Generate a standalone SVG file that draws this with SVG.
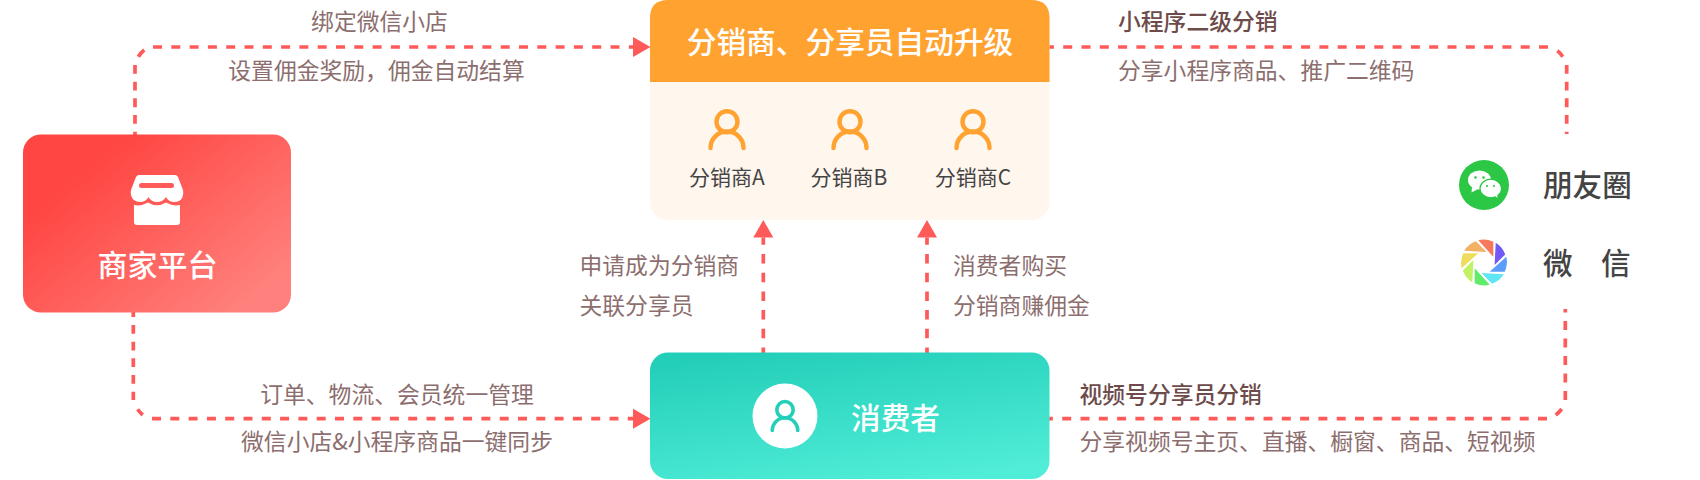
<svg xmlns="http://www.w3.org/2000/svg" width="1700" height="480" viewBox="0 0 1700 480">
<style>
text{font-family:"Noto Sans CJK SC","Noto Sans",sans-serif}
.conn{fill:none;stroke:#FF5A5A;stroke-width:3.7}
.h{stroke-dasharray:9 9.300}
.v{stroke-dasharray:8.800 7.870}
.vr{stroke-dasharray:9 8.500}
.a{stroke-dasharray:9.500 9.200}
.lbl{font-size:22.8px;fill:#8C6E6E}
.blbl{font-size:22.8px;fill:#6E4B4B;font-weight:500}
.wh{fill:#fff}
.title{font-size:30px;fill:#fff;font-weight:500;text-anchor:middle}
.sub{font-size:21px;fill:#444;text-anchor:middle}
.plat{font-size:29.6px;fill:#444;font-weight:500}
.pers{fill:none;stroke:#FFA230;stroke-width:4.4;stroke-linecap:round}
.tperson{fill:none;stroke:#22CFB8;stroke-width:3.6;stroke-linecap:round}
</style>
<defs>
<linearGradient id="gr" x1="0.1" y1="0.2" x2="0.9" y2="0.85"><stop offset="0.1" stop-color="#FF4642"/><stop offset="1" stop-color="#FF807C"/></linearGradient>
<linearGradient id="gt" x1="0.3" y1="0" x2="0.7" y2="1"><stop offset="0" stop-color="#24CFB9"/><stop offset="1" stop-color="#50EDD8"/></linearGradient>
<marker id="ah" markerUnits="userSpaceOnUse" markerWidth="18" markerHeight="22" refX="0" refY="10.500" orient="auto"><path d="M0 0.500L17.500 10.500L0 20.500Z" fill="#FF5A5A"/></marker>
<path id="blade" d="M-5.700 -22.300A23 23 0 0 1 9.300 -20.700L9.300 -5.700Z"/>
<g id="person"><circle cx="0" cy="0" r="10.500"/><path d="M-16.500 26.300a16.500 16.500 0 0 1 33 0"/></g>
</defs>
<rect id="bg" width="1700" height="480" fill="#fff"/>

<g id="connectors">
<g id="c-merchant-distributor">
<path class="conn v" d="M135 65V136"/>
<path class="conn" d="M138.300 56.700Q140.500 53 144.300 50"/>
<path class="conn h" marker-end="url(#ah)" d="M153 47H633"/>
</g>
<g id="c-merchant-consumer">
<path class="conn v" d="M133.300 308.300V400"/>
<path class="conn" d="M137.700 409.300Q139.800 412.500 142.700 415"/>
<path class="conn h" marker-end="url(#ah)" d="M152 418.700H633"/>
</g>
<g id="c-distributor-platforms">
<path class="conn h" d="M1548 47H1049"/>
<path class="conn" d="M1557.300 50.700Q1560.500 53 1562.700 56.700"/>
<path class="conn v" d="M1566.700 65V134"/>
</g>
<g id="c-consumer-platforms">
<path class="conn h" d="M1547 418.700H1049"/>
<path class="conn" d="M1555.700 415Q1559 412.500 1561.700 409"/>
<path class="conn vr" d="M1565.300 400V309"/>
</g>
<path id="c-consumer-distributor-1" class="conn a" marker-end="url(#ah)" d="M763.300 357V237.500"/>
<path id="c-consumer-distributor-2" class="conn a" marker-end="url(#ah)" d="M927 357V237.500"/>
</g>

<g id="merchant">
<rect x="23" y="134.500" width="268" height="178" rx="18" fill="url(#gr)"/>
<path class="wh" d="M139 175H175Q177 175 178 177L183 190Q183.500 193 183 195Q182 202 174.500 202Q168.500 202 166 197Q163 202 157 202Q151 202 148.500 197Q146 202 140 202Q132.500 202 131 195Q130.500 193 131 190L136 177Q137 175 139 175Z"/>
<rect x="139" y="183" width="35" height="5" rx="2.500" fill="#FF5B58"/>
<path class="wh" d="M134 205Q141 206.500 148 202.500Q157 208 166 202.500Q173 206.500 180 205V222Q180 225 177 225H137Q134 225 134 222Z"/>
<text class="title" x="157.500" y="276">商家平台</text>
</g>

<g id="distributor">
<rect x="650" y="0" width="399.500" height="220" rx="18" fill="#FFF6EE"/>
<path d="M650 82V18Q650 0 668 0H1031.500Q1049.500 0 1049.500 18V82Z" fill="#FFA230"/>
<text class="title" x="850" y="53" style="font-size:29.700px">分销商、分享员自动升级</text>
<use href="#person" class="pers" x="727" y="121.700"/>
<use href="#person" class="pers" x="850" y="121.700"/>
<use href="#person" class="pers" x="973" y="121.700"/>
<text class="sub" x="727" y="184.500">分销商A</text>
<text class="sub" x="849" y="184.500">分销商B</text>
<text class="sub" x="973" y="184.500">分销商C</text>
</g>

<g id="consumer">
<rect x="650" y="352.500" width="399.500" height="126.500" rx="18" fill="url(#gt)"/>
<circle cx="785" cy="416" r="32.500" fill="#fff"/>
<circle class="tperson" cx="785" cy="409.700" r="8.200"/>
<path class="tperson" d="M772.300 430.500a12.700 12.700 0 0 1 25.400 0"/>
<text class="title" x="895.500" y="429" style="font-size:29.600px">消费者</text>
</g>

<g id="platforms">
<circle cx="1484" cy="185" r="25" fill="#2BC745"/>
<ellipse cx="1479.500" cy="180" rx="11.500" ry="9.500" fill="#fff"/>
<path d="M1472 187L1471.500 192.500L1478 189Z" fill="#fff"/>
<ellipse cx="1490.800" cy="188.500" rx="10.800" ry="9.300" fill="#fff" stroke="#2BC745" stroke-width="1.200"/>
<path d="M1495 196L1497.500 198L1497 193Z" fill="#fff"/>
<circle cx="1475.500" cy="177.500" r="1.300" fill="#2BC745"/>
<circle cx="1483.500" cy="177.500" r="1.300" fill="#2BC745"/>
<circle cx="1487" cy="186" r="1.100" fill="#2BC745"/>
<circle cx="1494" cy="186" r="1.100" fill="#2BC745"/>
<g transform="translate(1484 262.500)">
<use href="#blade" fill="#F8785C"/>
<use href="#blade" fill="#7059F5" transform="rotate(45)"/>
<use href="#blade" fill="#5C9DFB" transform="rotate(90)"/>
<use href="#blade" fill="#5FE6F3" transform="rotate(135)"/>
<use href="#blade" fill="#62EA6A" transform="rotate(180)"/>
<use href="#blade" fill="#C2F163" transform="rotate(225)"/>
<use href="#blade" fill="#F0DC5C" transform="rotate(270)"/>
<use href="#blade" fill="#F2B163" transform="rotate(315)"/>
</g>
<text class="plat" x="1543" y="196">朋友圈</text>
<text class="plat" x="1543 1601" y="274">微信</text>
</g>

<g id="labels">
<text class="lbl" x="379.500" y="30" text-anchor="middle">绑定微信小店</text>
<text class="lbl" x="376.500" y="79" text-anchor="middle">设置佣金奖励，佣金自动结算</text>
<text class="lbl" x="397" y="403" text-anchor="middle">订单、物流、会员统一管理</text>
<text class="lbl" x="397" y="450" text-anchor="middle">微信小店&amp;小程序商品一键同步</text>
<text class="lbl" x="579.500" y="274">申请成为分销商</text>
<text class="lbl" x="579.500" y="314">关联分享员</text>
<text class="lbl" x="953" y="274">消费者购买</text>
<text class="lbl" x="953" y="314">分销商赚佣金</text>
<text class="blbl" x="1118" y="30">小程序二级分销</text>
<text class="lbl" x="1118" y="79">分享小程序商品、推广二维码</text>
<text class="blbl" x="1079.500" y="403">视频号分享员分销</text>
<text class="lbl" x="1079.500" y="450">分享视频号主页、直播、橱窗、商品、短视频</text>
</g>
</svg>
